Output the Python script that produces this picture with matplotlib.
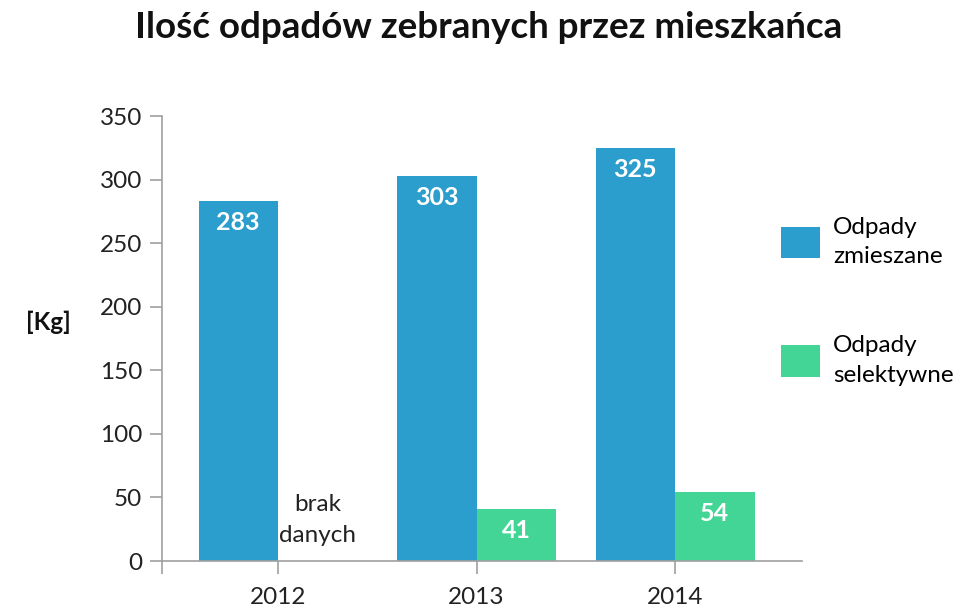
import matplotlib
matplotlib.use("Agg")
import matplotlib.pyplot as plt
from matplotlib.patches import Patch
import numpy as np

plt.rcParams['font.family'] = ['Lato', 'DejaVu Sans']

# data
years = ['2012', '2013', '2014']
mixed = [283, 303, 325]
selective = [None, 41, 54]
series_names = ['Odpady\nzmieszane', 'Odpady\nselektywne']
title = 'Ilość odpadów zebranych przez mieszkańca'
no_data_text = 'brak\ndanych'

blue = '#2b9ecd'
green = '#42d595'
axis_grey = '#a0a0a0'

x = np.arange(len(years))
w = 0.4

fig = plt.figure(figsize=(9.63, 6.09), dpi=100)
ax = fig.add_axes([0.168, 0.0788, 0.665, 0.7307])

mixed_bars = ax.bar(x - w / 2, mixed, width=w, color=blue)
sel_x = [xi + w / 2 for xi, v in zip(x, selective) if v is not None]
sel_v = [v for v in selective if v is not None]
sel_bars = ax.bar(sel_x, sel_v, width=w, color=green)

# value labels inside bars, near the top
for bars in (mixed_bars, sel_bars):
    for b in bars:
        ax.annotate(f'{int(b.get_height())}',
                    (b.get_x() + b.get_width() / 2, b.get_height()),
                    xytext=(0, -15.5), textcoords='offset points',
                    ha='center', va='center', color='white',
                    fontsize=18, fontweight='bold')

# missing data note
for xi, v in zip(x, selective):
    if v is None:
        ax.text(xi + w / 2, 32, no_data_text, ha='center', va='center',
                fontsize=17.5, color='#222222', linespacing=1.6)

ax.set_xlim(-0.585, 2.64)
ax.set_ylim(0, 350)
ax.set_yticks(np.arange(0, 351, 50))
ax.set_xticks(x)
ax.set_xticklabels(years)
ax.set_xticks([-0.585], minor=True)

for s in ('top', 'right'):
    ax.spines[s].set_visible(False)
for s in ('left', 'bottom'):
    ax.spines[s].set_color(axis_grey)
    ax.spines[s].set_linewidth(1.2)
ax.tick_params(axis='both', which='both', length=9, width=1.2,
               color=axis_grey, labelsize=17.5, labelcolor='#222222')
ax.tick_params(axis='y', pad=5)
ax.tick_params(axis='x', pad=10)

fig.text(0.05, 0.47, '[Kg]', fontsize=17.5, fontweight='bold',
         ha='center', va='center', color='#111111')
fig.text(0.507, 0.955, title, fontsize=26.5, fontweight='bold',
         ha='center', va='center', color='#111111')

handles = [Patch(facecolor=blue), Patch(facecolor=green)]
leg = fig.legend(handles, series_names, loc='upper left',
                 bbox_to_anchor=(0.788, 0.68), frameon=False, fontsize=17.5,
                 handlelength=1.6, handleheight=1.6, labelspacing=2.8,
                 handletextpad=0.55)
for t in leg.get_texts():
    t.set_linespacing(1.5)

fig.savefig('out.png', dpi=100)
